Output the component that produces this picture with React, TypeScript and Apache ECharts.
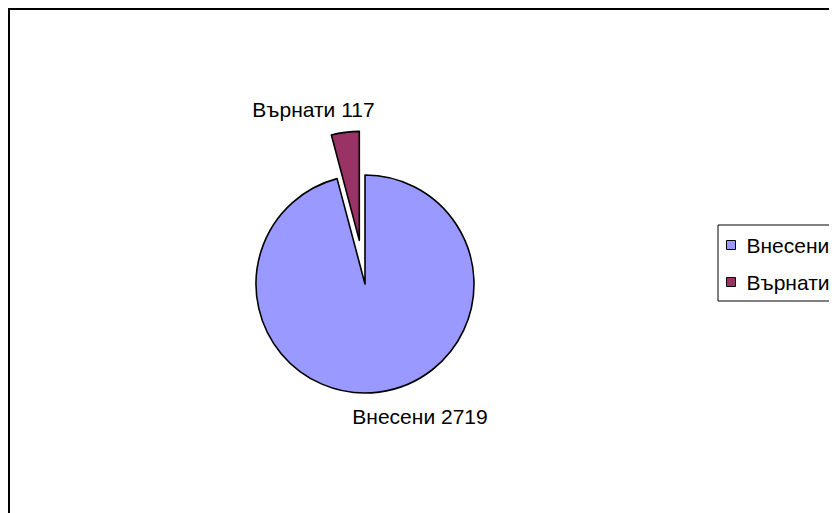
import React, { useEffect, useRef } from "react";
import * as echarts from "echarts";

const categories = ["Внесени", "Върнати"];
const values = [2719, 117];
const colors = ["#9999FF", "#993366"];
const explodedIndex = 1;

export default function App() {
  const ref = useRef<HTMLDivElement>(null);
  useEffect(() => {
    if (!ref.current) return;
    document.documentElement.style.overflow = "hidden";
    const chart = echarts.init(ref.current, undefined, { renderer: "svg" });
    const font = "'Liberation Sans', Arial, sans-serif";
    const labelPos = [
      { x: 412, y: 408 },
      { x: 305.5, y: 101 },
    ];
    const center = [357, 276];
    const radius = 109;
    const explodeDist = 44;
    const total = values.reduce((a, b) => a + b, 0);
    let before = 0;
    for (let i = 0; i < explodedIndex; i++) before += values[i];
    const midFrac = (before + values[explodedIndex] / 2) / total;
    const ang = midFrac * Math.PI * 2; // clockwise from 12 o'clock
    const center2 = [
      center[0] + explodeDist * Math.sin(ang),
      center[1] - explodeDist * Math.cos(ang),
    ];

    const makeSeries = (visibleFn: (i: number) => boolean, c: number[]) => ({
      type: "pie",
      center: c,
      radius,
      startAngle: 90,
      clockwise: true,
      silent: true,
      emphasis: { disabled: true },
      label: {
        show: true,
        formatter: "{b} {c}",
        fontFamily: font,
        fontSize: 21,
        color: "#000",
      },
      labelLine: { show: false },
      labelLayout: (p: any) => ({
        x: labelPos[p.dataIndex].x,
        y: labelPos[p.dataIndex].y,
        align: "center",
        verticalAlign: "middle",
      }),
      data: categories.map((name, i) => {
        const vis = visibleFn(i);
        return {
          name,
          value: values[i],
          itemStyle: vis
            ? { color: colors[i], borderColor: "#000", borderWidth: 1.6 }
            : { color: "rgba(0,0,0,0)", borderWidth: 0 },
          label: { show: vis },
        };
      }),
    });

    chart.setOption({
      animation: false,
      backgroundColor: "#ffffff",
      textStyle: { fontFamily: font },
      graphic: [
        {
          type: "rect",
          shape: { x: 1, y: 1, width: 1000, height: 800 },
          style: { fill: "none", stroke: "#000", lineWidth: 2 },
          silent: true,
        },
      ],
      legend: {
        orient: "vertical",
        left: 710,
        top: 217,
        padding: [9, 40, 8, 8],
        borderColor: "#000",
        borderWidth: 1,
        icon: "rect",
        itemWidth: 9,
        itemHeight: 9,
        itemGap: 15,
        textStyle: {
          fontFamily: font,
          fontSize: 21,
          color: "#000",
          lineHeight: 22,
          padding: [0, 0, 0, 6],
        },
        data: categories.map((name, i) => ({
          name,
          itemStyle: { color: colors[i], borderColor: "#000", borderWidth: 1 },
        })),
        selectedMode: false,
      },
      series: [
        makeSeries((i) => i !== explodedIndex, center),
        makeSeries((i) => i === explodedIndex, center2),
      ],
    });
    return () => chart.dispose();
  }, []);
  return <div ref={ref} style={{ width: 837, height: 513 }} />;
}
